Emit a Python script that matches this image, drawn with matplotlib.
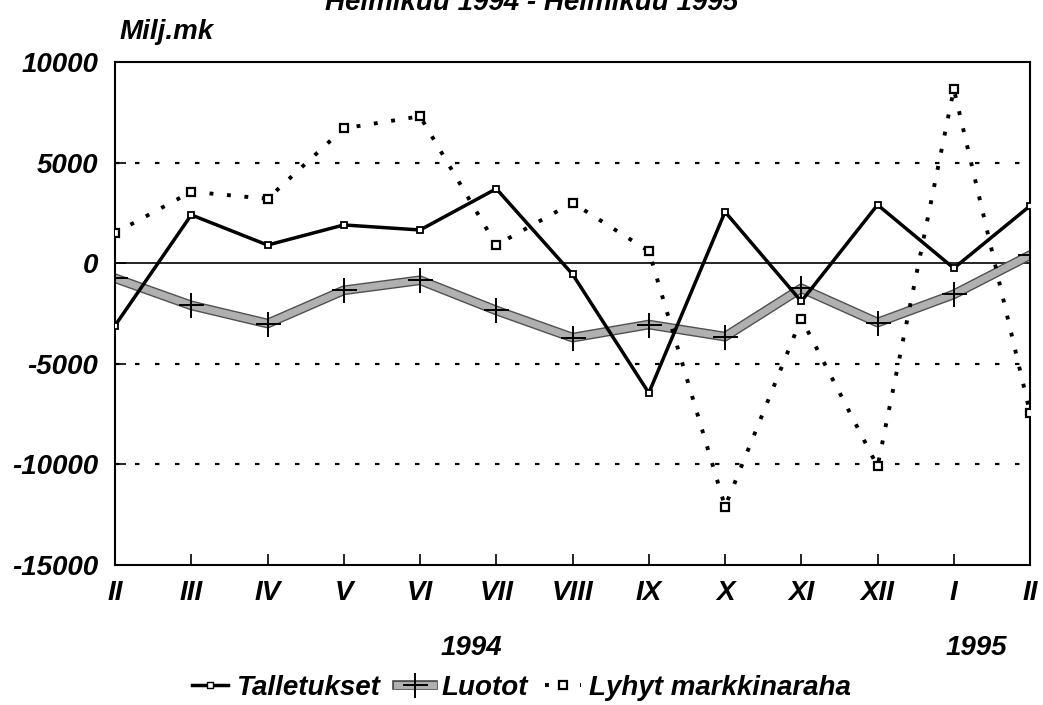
import matplotlib.pyplot as plt
import matplotlib.patheffects as pe
from matplotlib.lines import Line2D

months = ['II', 'III', 'IV', 'V', 'VI', 'VII', 'VIII', 'IX', 'X', 'XI', 'XII', 'I', 'II']
talletukset = [-3100, 2400, 900, 1900, 1650, 3700, -550, -6450, 2550, -1900, 2900, -250, 2850]
luotot = [-750, -2100, -3000, -1350, -850, -2350, -3700, -3050, -3650, -1250, -2950, -1550, 400]
lyhyt = [1500, 3550, 3200, 6700, 7300, 900, 3000, 600, -12100, -2750, -10100, 8650, -7450]

fam = ['Liberation Sans']
plt.rcParams['font.family'] = fam

fig = plt.figure(figsize=(10.43, 7.05), dpi=100)
ax = fig.add_axes([0.1103, 0.1986, 0.8773, 0.7135])

x = list(range(len(months)))
fp = dict(fontsize=20, fontweight='bold', fontstyle='italic')
gray_fx = [pe.Stroke(linewidth=7, foreground='#505050'), pe.Normal()]

for y in (5000, -5000, -10000):
    ax.axhline(y, color='black', lw=1.6, ls=(0, (2, 7)), zorder=1)
ax.axhline(0, color='black', lw=1.2, zorder=1)

ax.plot(x, lyhyt, color='black', lw=2.8, ls=(0, (1, 3.5)), marker='s', ms=5.5,
        mfc='white', mec='black', mew=1.6, zorder=3)
ax.plot(x, luotot, color='#b0b0b0', lw=5, zorder=2, path_effects=gray_fx)
ax.plot(x, luotot, ls='none', marker='+', ms=18, mec='black', mew=1.4, zorder=2.5)
ax.plot(x, talletukset, color='black', lw=2.5, marker='s', ms=5,
        mfc='white', mec='black', mew=1.3, zorder=4)

ax.set_xlim(0, len(months) - 1)
ax.set_ylim(-15000, 10000)
ax.set_yticks([10000, 5000, 0, -5000, -10000, -15000])
ax.set_xticks(x)
ax.set_xticklabels(months, **fp)
ax.set_yticklabels(['10000', '5000', '0', '-5000', '-10000', '-15000'], **fp)
ax.tick_params(axis='x', direction='in', length=8, width=1.2, pad=11)
ax.tick_params(axis='y', direction='in', length=8, width=1.2, pad=12)
for s in ax.spines.values():
    s.set_linewidth(1.5)

fig.text(0.115, 0.945, 'Milj.mk', **fp)
fig.text(0.51, 1 - 10 / 705, 'Helmikuu 1994 - Helmikuu 1995', ha='center', va='baseline', **fp)
fig.text(0.452, 1 - 655 / 705, '1994', ha='center', va='baseline', **fp)
fig.text(0.936, 1 - 655 / 705, '1995', ha='center', va='baseline', **fp)

h_tal = Line2D([], [], color='black', lw=2.5, marker='s', ms=5, mfc='white', mec='black')
h_luo_line = Line2D([], [], color='#b0b0b0', lw=5, path_effects=gray_fx)
h_luo_mark = Line2D([], [], ls='none', marker='+', ms=18, mec='black', mew=1.4)
h_lyh = Line2D([], [], color='black', lw=2.8, ls=(0, (1, 3.5)), marker='s', ms=5.5,
               mfc='white', mec='black', mew=1.6)
fig.legend([h_tal, (h_luo_line, h_luo_mark), h_lyh], ['Talletukset', 'Luotot', 'Lyhyt markkinaraha'],
           loc='center', bbox_to_anchor=(0.5, 1 - 688 / 705), ncol=3, frameon=False,
           prop=dict(size=20, weight='bold', style='italic', family=fam),
           handlelength=1.3, handletextpad=0.3, columnspacing=0.6)

fig.savefig('out.png', dpi=100)
